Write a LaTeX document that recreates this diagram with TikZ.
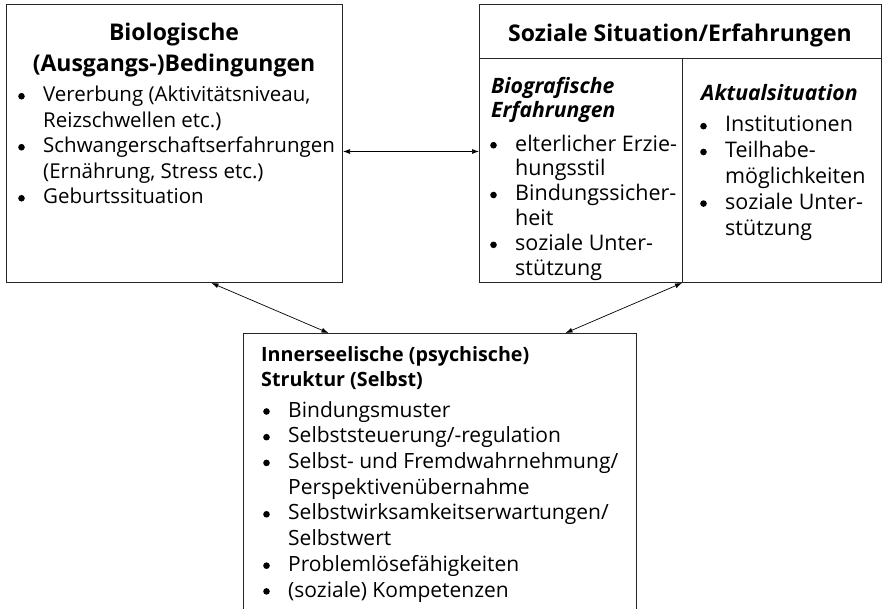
\documentclass[tikz,border=0pt]{standalone}
\usepackage{fontspec}
\setmainfont{Open Sans}
\usetikzlibrary{arrows.meta}
\newcommand{\pkt}{\makebox[25pt][l]{\tikz[x=1pt,y=1pt,baseline=-0.27em]\fill (0,0) circle[radius=3.3pt];}}
\newcommand{\wei}{\hspace*{25pt}}
\tikzset{
  kasten/.style={draw=black!85, line width=1pt, inner sep=0pt, anchor=north west},
  titel/.style={font=\fontsize{23}{31}\selectfont\bfseries, align=center, inner sep=0pt},
  spalte/.style={font=\fontsize{21.2}{24.5}\selectfont\bfseries\itshape, align=left, inner sep=0pt, anchor=north west},
  liste/.style={font=\fontsize{21}{25}\selectfont, align=left, inner sep=0pt, anchor=north west},
  pfeil/.style={{Latex[length=7pt,width=5pt]}-{Latex[length=7pt,width=5pt]}, line width=0.7pt},
}

\begin{document}
\begin{tikzpicture}[x=1pt, y=-1pt]
\useasboundingbox (0,0) rectangle (882,609);
% Kaesten
\node[kasten, minimum width=336pt, minimum height=278pt] (bio) at (6,4) {};
\node[kasten, minimum width=402pt, minimum height=278pt] (sozial) at (479,4) {};
\node[kasten, minimum width=393pt, minimum height=290pt] (innen) at (243,333) {};
% Kopfzeile und Spalten rechts
\coordinate (kopfL) at (479,59);
\coordinate (kopfR) at (881,59);
\coordinate (teilO) at (682,59);
\draw[line width=1pt, draw=black!85] (kopfL) -- (kopfR);
\draw[line width=1pt, draw=black!85] (teilO) -- (teilO |- sozial.south);

% Biologische Bedingungen
\node[titel] (bioT) at (174,50) {Biologische\\(Ausgangs-)Bedingungen};
\node[liste, font=\fontsize{20.5}{25.5}\selectfont] (bioL) at (18,86) {\pkt Vererbung (Aktivitätsniveau,\\
  \wei Reizschwellen etc.)\\
  \pkt Schwangerschaftserfahrungen\\
  \wei (Ernährung, Stress etc.)\\
  \pkt Geburtssituation};

% Soziale Situation
\node[titel] (sozT) at (680,35) {Soziale Situation/Erfahrungen};
\node[spalte] (bioE) at (491,77) {Biografische\\Erfahrungen};
\node[liste, font=\fontsize{21.5}{24.9}\selectfont] (bioEL) at (490,134.5) {\pkt elterlicher Erzie-\\
  \wei hungsstil\\
  \pkt Bindungssicher-\\
  \wei heit\\
  \pkt soziale Unter-\\
  \wei stützung};
\node[spalte] (aktT) at (701,84) {Aktualsituation};
\node[liste, font=\fontsize{21.5}{25.8}\selectfont] (aktL) at (700,116) {\pkt Institutionen\\
  \pkt Teilhabe-\\
  \wei möglichkeiten\\
  \pkt soziale Unter-\\
  \wei stützung};

% Innerseelische Struktur
\node[spalte, font=\fontsize{19.7}{25}\selectfont\bfseries] (innT) at (261,346) {Innerseelische (psychische)\\Struktur (Selbst)};
\node[liste, font=\fontsize{21}{25.7}\selectfont] (innL) at (263,401) {\pkt Bindungsmuster\\
  \pkt Selbststeuerung/-regulation\\
  \pkt Selbst- und Fremdwahrnehmung/\\
  \wei Perspektivenübernahme\\
  \pkt Selbstwirksamkeitserwartungen/\\
  \wei Selbstwert\\
  \pkt Problemlösefähigkeiten\\
  \pkt (soziale) Kompetenzen};

% Pfeile
\draw[pfeil] ([yshift=-8pt]bio.east) -- ([yshift=-8pt]sozial.west);
\draw[pfeil] ([xshift=37pt]bio.south) -- ([xshift=-111.5pt]innen.north);
\draw[pfeil] (teilO |- sozial.south) -- ([xshift=125.5pt]innen.north);
\end{tikzpicture}
\end{document}
